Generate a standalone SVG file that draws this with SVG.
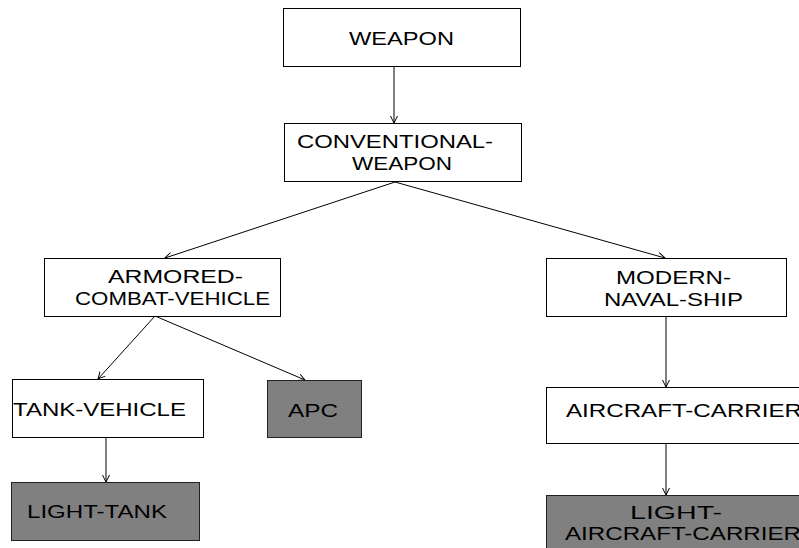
<svg xmlns="http://www.w3.org/2000/svg" width="799" height="548" viewBox="0 0 799 548">
<defs>
<style>
.box{fill:#ffffff;stroke:#000;stroke-width:1}
.dark{fill:#808080;stroke:#222;stroke-width:1}
.lbl{font-family:"Liberation Sans",Arial,sans-serif;font-size:19px;fill:#000}
.edge{stroke:#000;stroke-width:1;fill:none;marker-end:url(#arr)}
</style>
<marker id="arr" markerUnits="userSpaceOnUse" markerWidth="10" markerHeight="10" refX="7" refY="4" orient="auto">
<path d="M0,0.5 L7,4 L0,7.5" fill="none" stroke="#000" stroke-width="1"/>
</marker>
</defs>
<rect width="799" height="548" fill="#fff"/>
<g id="connectors">
<line class="edge" x1="394" y1="66" x2="394" y2="123"/>
<line class="edge" x1="395" y1="182" x2="165" y2="258"/>
<line class="edge" x1="395" y1="182" x2="665" y2="258"/>
<line class="edge" x1="155" y1="316" x2="98" y2="379"/>
<line class="edge" x1="155" y1="316" x2="305" y2="380"/>
<line class="edge" x1="106" y1="437" x2="106" y2="482"/>
<line class="edge" x1="666" y1="316" x2="666" y2="387"/>
<line class="edge" x1="666" y1="443" x2="666" y2="495"/>
</g>
<g id="weapon">
<rect class="box" x="283.5" y="8.5" width="237" height="58"/>
<text class="lbl" x="349" y="45" textLength="105" lengthAdjust="spacingAndGlyphs">WEAPON</text>
</g>
<g id="conventional-weapon">
<rect class="box" x="284.5" y="123.5" width="237" height="58"/>
<text class="lbl" x="297" y="148" textLength="196" lengthAdjust="spacingAndGlyphs">CONVENTIONAL-</text>
<text class="lbl" x="352" y="170" textLength="100" lengthAdjust="spacingAndGlyphs">WEAPON</text>
</g>
<g id="armored-combat-vehicle">
<rect class="box" x="44.5" y="258.5" width="236" height="58"/>
<text class="lbl" x="108" y="283" textLength="135" lengthAdjust="spacingAndGlyphs">ARMORED-</text>
<text class="lbl" x="75" y="305" textLength="195" lengthAdjust="spacingAndGlyphs">COMBAT-VEHICLE</text>
</g>
<g id="modern-naval-ship">
<rect class="box" x="546.5" y="258.5" width="240" height="58"/>
<text class="lbl" x="616" y="284" textLength="115" lengthAdjust="spacingAndGlyphs">MODERN-</text>
<text class="lbl" x="604" y="306" textLength="139" lengthAdjust="spacingAndGlyphs">NAVAL-SHIP</text>
</g>
<g id="tank-vehicle">
<rect class="box" x="12.5" y="379.5" width="191" height="58"/>
<text class="lbl" x="13" y="416" textLength="173" lengthAdjust="spacingAndGlyphs">TANK-VEHICLE</text>
</g>
<g id="apc">
<rect class="dark" x="267.5" y="380.5" width="94" height="57"/>
<text class="lbl" x="288" y="417" textLength="50" lengthAdjust="spacingAndGlyphs">APC</text>
</g>
<g id="aircraft-carrier">
<rect class="box" x="546.5" y="387.5" width="270" height="56"/>
<text class="lbl" x="566" y="417" textLength="236" lengthAdjust="spacingAndGlyphs">AIRCRAFT-CARRIER</text>
</g>
<g id="light-tank">
<rect class="dark" x="11.5" y="482.5" width="188" height="58"/>
<text class="lbl" x="27" y="518" textLength="140" lengthAdjust="spacingAndGlyphs">LIGHT-TANK</text>
</g>
<g id="light-aircraft-carrier">
<rect class="dark" x="546.5" y="495.5" width="270" height="70"/>
<text class="lbl" x="630" y="519" textLength="92" lengthAdjust="spacingAndGlyphs">LIGHT-</text>
<text class="lbl" x="565" y="540" textLength="236" lengthAdjust="spacingAndGlyphs">AIRCRAFT-CARRIER</text>
</g>
</svg>
